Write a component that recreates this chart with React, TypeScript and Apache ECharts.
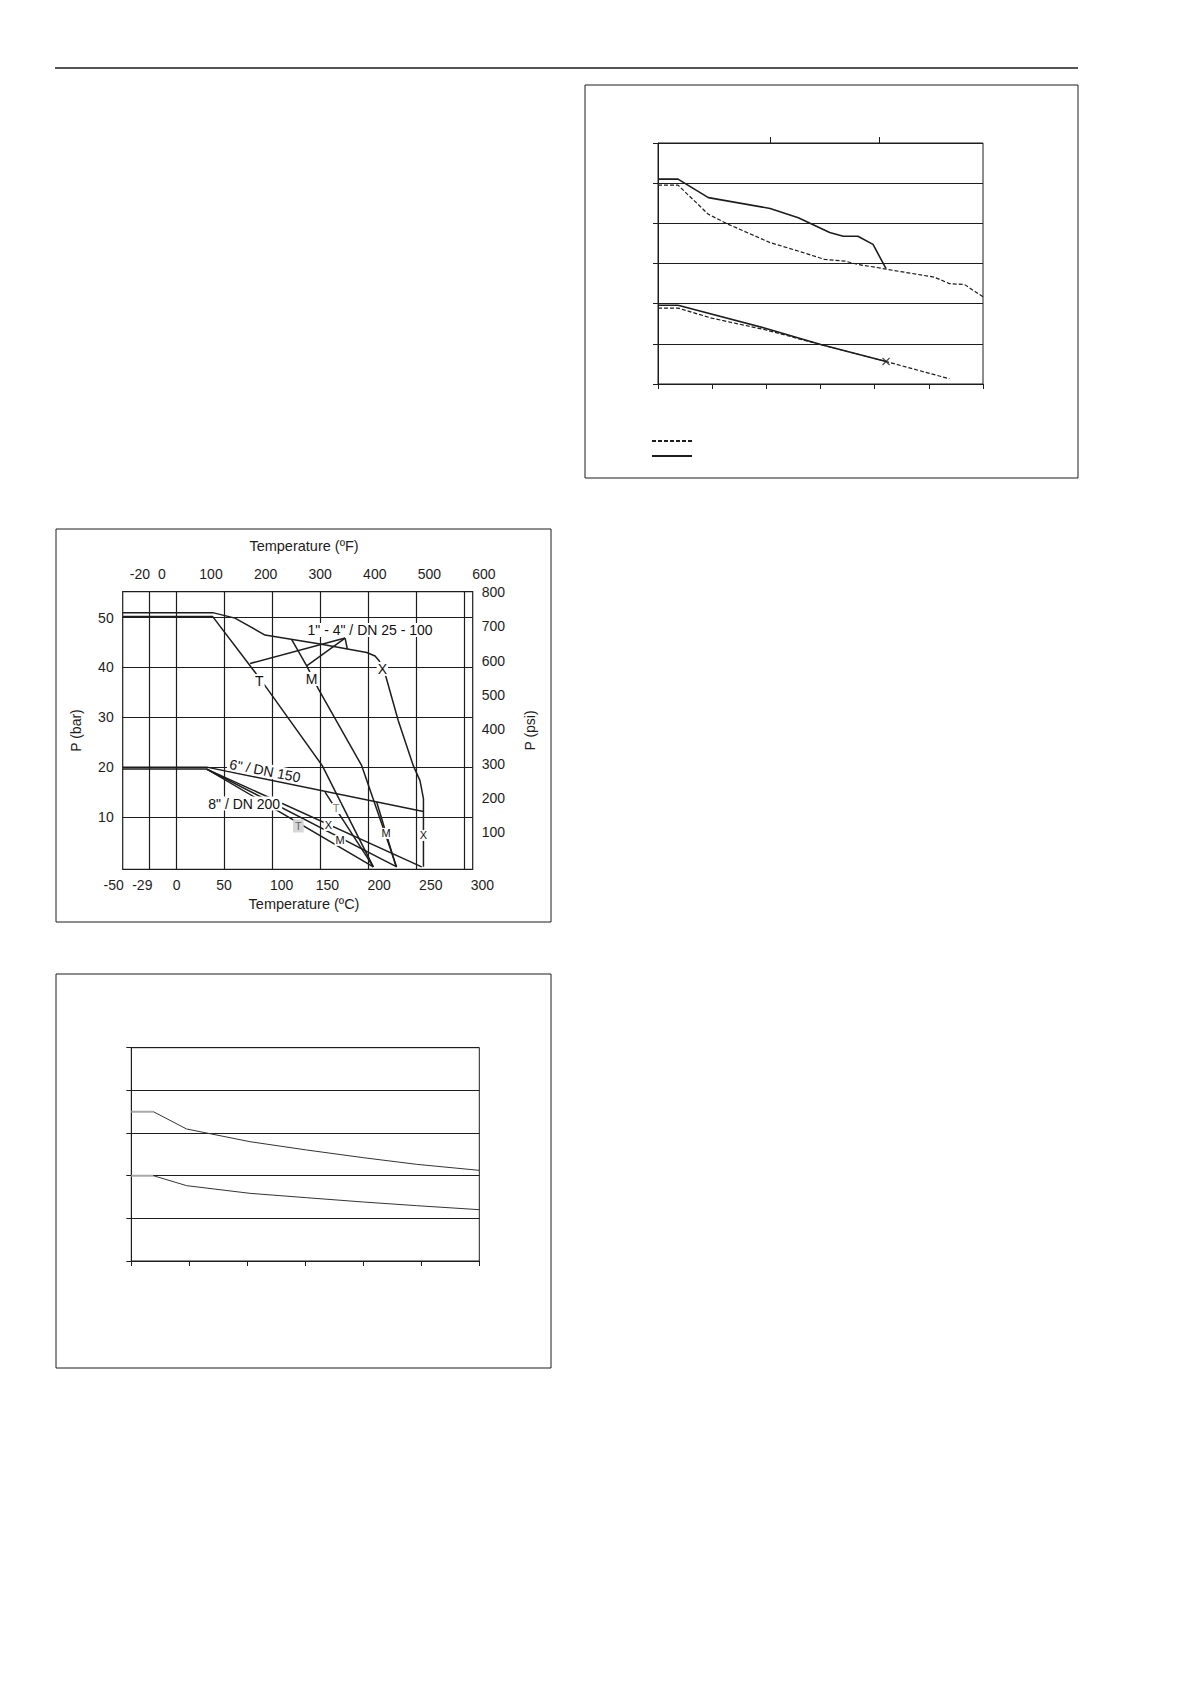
import React, { useEffect, useRef } from 'react';
import * as echarts from 'echarts';

const INK = '#1d1d1d';
const FONT = 'Liberation Sans, Arial, Helvetica, sans-serif';

// ---------- top-right chart (no printed values, units = grid steps) ----------
const TR_UPPER_SOLID = [[0, 5.1], [0.37, 5.1], [0.93, 4.64], [2.07, 4.37], [2.59, 4.14], [3.17, 3.77], [3.42, 3.68], [3.69, 3.68], [3.97, 3.475], [4.21, 2.87]];
const TR_UPPER_DASH = [[0, 4.95], [0.37, 4.95], [0.93, 4.225], [1.3, 3.975], [2.07, 3.52], [2.59, 3.31], [3.08, 3.1], [3.45, 3.06], [3.69, 2.975], [4.0, 2.91], [4.25, 2.85], [5.1, 2.66], [5.38, 2.5], [5.66, 2.475], [6.0, 2.17]];
const TR_LOWER_SOLID = [[0, 1.96], [0.37, 1.96], [1.98, 1.39], [3.02, 0.975], [4.21, 0.56]];
const TR_LOWER_DASH = [[0, 1.89], [0.37, 1.89], [0.99, 1.64], [1.98, 1.35], [3.02, 0.975], [4.21, 0.56], [5.38, 0.13]];
const TR_CROSS = [[4.21, 0.56]];
const TR_TOP_TICKS = [2.07, 4.08];

// ---------- middle chart: temperature (°C) vs pressure (bar) ----------
const C_GRID = [-29, 0, 50, 100, 150, 200, 250, 300];
const BAR_GRID = [10, 20, 30, 40, 50];
const BAR_LABELS = [10, 20, 30, 40, 50];
const PSI_LABELS = [100, 200, 300, 400, 500, 600, 700, 800];
const C_LABELS = [-50, -29, 0, 50, 100, 150, 200, 250, 300];
const F_LABELS = [-20, 0, 100, 200, 300, 400, 500, 600];

// 1" - 4" / DN 25 - 100
const DN25_X = [[-56, 51], [37.5, 51], [60.7, 49.9], [92, 46.5], [149.3, 44.7], [197.9, 43], [206.6, 42.3], [211, 41.3], [218, 38.1], [230.8, 29.3], [246.4, 20.3], [253.4, 17.3], [257, 13.7], [257, 0]];
const DN25_T = [[-56, 50.2], [37.5, 50.2], [79.8, 39.5], [94.4, 35.7], [151.6, 20.3], [204.8, 0]];
const DN25_M = [[119.8, 45.6], [135.4, 40.3], [147.5, 35.7], [192.7, 20.3], [229, 0]];
const DN25_LEAD_T = [[76.4, 40.8], [175.4, 45.9]];
const DN25_LEAD_M = [[135.4, 40.3], [175.4, 45.9]];
const DN25_LEAD_X = [[175.4, 45.9], [177.7, 43.7]];

// 6" / DN 150
const DN150_MAIN = [[-56, 20], [31.3, 20], [257, 11.1]];
const DN150_T = [[154.5, 15.0], [204.8, 0]];
const DN150_M = [[208.3, 13.0], [228.5, 0]];

// 8" / DN 200
const DN200_T = [[-56, 19.6], [31.3, 19.6], [204.8, 0]];
const DN200_M = [[31.3, 19.6], [229.2, 0]];
const DN200_X = [[31.3, 19.6], [255.2, 0]];

// curve labels: [text, °C, bar, rotation]
const SIZE_LABELS = [
  ['1" - 4" / DN 25 - 100', 201.4, 47.5, 0],
  ['6" / DN 150', 92, 19.3, -11],
  ['8" / DN 200', 70.3, 12.7, 0],
];
const BIG_MARKS = [['T', 86.1, 37.3], ['M', 140.6, 37.7], ['X', 214.2, 39.7]];
const SMALL_MARKS = [['X', 157.9, 8.3], ['M', 170.2, 5.3], ['M', 218, 6.7], ['X', 256.9, 6.3]];
const GREY_MARKS = [['T', 166, 11.7]];
const BOXED_MARKS = [['T', 126.7, 8.2]];

// ---------- bottom chart (no printed values) ----------
const BL_UPPER_FLAT = [[0, 3.5], [0.38, 3.5]];
const BL_UPPER = [[0.38, 3.5], [0.954, 3.094], [2.046, 2.797], [3.023, 2.602], [4.0, 2.422], [4.92, 2.266], [6.0, 2.125]];
const BL_LOWER_FLAT = [[0, 2.0], [0.38, 2.0]];
const BL_LOWER = [[0.38, 2.0], [0.954, 1.766], [2.046, 1.586], [3.023, 1.484], [4.0, 1.383], [4.92, 1.297], [6.0, 1.203]];

function curve(data: number[][], x: number, y: number, extra: Record<string, unknown> = {}) {
  return {
    type: 'line',
    xAxisIndex: x,
    yAxisIndex: y,
    data,
    symbol: 'none',
    silent: true,
    z: 3,
    itemStyle: { color: INK },
    lineStyle: { color: INK, width: 1.5 },
    ...extra,
  };
}

function marks(rows: (string | number)[][], fontSize: number, labelExtra: Record<string, unknown> = {}) {
  return {
    type: 'scatter',
    xAxisIndex: 2,
    yAxisIndex: 1,
    symbolSize: 1,
    silent: true,
    z: 10,
    itemStyle: { color: 'rgba(255,255,255,0)' },
    label: {
      show: true,
      position: 'inside',
      formatter: '{b}',
      color: '#111',
      opacity: 1,
      textBorderWidth: 0,
      fontSize,
      fontFamily: FONT,
      backgroundColor: '#fff',
      padding: [0, 1],
      ...labelExtra,
    },
    data: rows.map((r) => ({
      name: r[0],
      value: [r[1], r[2]],
      label: r[3] ? { rotate: r[3] } : undefined,
    })),
  };
}

export default function App() {
  const chartRef = useRef<HTMLDivElement>(null);

  useEffect(() => {
    if (!chartRef.current) return;
    const chart = echarts.init(chartRef.current, undefined, { renderer: 'svg' });

    const tickText = { color: INK, fontSize: 14, fontFamily: FONT };
    const hidden = { show: false };

    const option = {
      animation: false,
      textStyle: { fontFamily: FONT, color: INK },
      legend: {
        data: ['Dashed rating', 'Solid rating'],
        orient: 'vertical',
        left: 651,
        top: 436,
        padding: 0,
        itemWidth: 40,
        itemHeight: 10,
        itemGap: 6,
        selectedMode: false,
        itemStyle: { opacity: 0, borderWidth: 0 },
        formatter: () => '',
      },
      grid: [
        { left: 658, top: 143, width: 325, height: 241, show: true, borderColor: INK, borderWidth: 1, outerBoundsMode: 'none' },
        { left: 122.7, top: 591.7, width: 350, height: 277.6, show: true, borderColor: INK, borderWidth: 1.2, outerBoundsMode: 'none' },
        { left: 94, top: 591.7, width: 420, height: 277.6, show: false, outerBoundsMode: 'none' },
        { left: 131.3, top: 1047.7, width: 348, height: 213.3, show: true, borderColor: INK, borderWidth: 1, outerBoundsMode: 'none' },
      ],
      xAxis: [
        {
          gridIndex: 0, type: 'value', min: 0, max: 6, interval: 1,
          axisLine: { lineStyle: { color: INK } },
          axisTick: { length: 5, lineStyle: { color: INK } },
          axisLabel: hidden, splitLine: hidden,
        },
        {
          gridIndex: 0, type: 'value', position: 'top', min: 0, max: 6,
          axisLine: hidden,
          axisTick: { show: true, customValues: TR_TOP_TICKS, length: 6, lineStyle: { color: INK } },
          axisLabel: hidden, splitLine: hidden,
        },
        { gridIndex: 1, type: 'value', min: -56.25, max: 308.3, show: false },
        {
          gridIndex: 2, type: 'value', min: -75.7, max: 330.5,
          axisLine: hidden, axisTick: hidden, splitLine: hidden,
          axisLabel: {
            ...tickText,
            margin: 9,
            customValues: C_LABELS,
            formatter: (v: number) => (v === -50 ? '{l|-50}' : v === 0 ? '{r|0}' : v === 100 ? '{r2|100}' : String(v)),
            rich: {
              l: { ...tickText, padding: [0, 14, 0, 0] },
              r: { ...tickText, padding: [0, 0, 0, 9] },
              r2: { ...tickText, padding: [0, 0, 0, 12] },
            },
          },
          name: 'Temperature (ºC)',
          nameLocation: 'middle',
          nameGap: 27,
          nameTextStyle: { ...tickText, fontSize: 14.5 },
        },
        {
          gridIndex: 2, type: 'value', position: 'top', min: -114.3, max: 655,
          axisLine: hidden, axisTick: hidden, splitLine: hidden,
          axisLabel: {
            ...tickText,
            margin: 11,
            customValues: F_LABELS,
            formatter: (v: number) => (v === -20 ? '{l|-20}' : v === 0 ? '{r|0}' : String(v)),
            rich: {
              l: { ...tickText, padding: [0, 11, 0, 0] },
              r: { ...tickText, padding: [0, 0, 0, 11] },
            },
          },
          name: 'Temperature (ºF)',
          nameLocation: 'middle',
          nameGap: 38,
          nameTextStyle: { ...tickText, fontSize: 14.5 },
        },
        {
          gridIndex: 3, type: 'value', min: 0, max: 6, interval: 1,
          axisLine: { lineStyle: { color: INK } },
          axisTick: { length: 5, lineStyle: { color: INK } },
          axisLabel: hidden, splitLine: hidden,
        },
      ],
      yAxis: [
        {
          gridIndex: 0, type: 'value', min: 0, max: 6, interval: 1,
          axisLine: { show: true, lineStyle: { color: INK } },
          axisTick: { show: true, length: 5, lineStyle: { color: INK } },
          axisLabel: hidden,
          splitLine: { show: true, lineStyle: { color: INK, width: 1 } },
        },
        {
          gridIndex: 1, type: 'value', min: -0.5, max: 55.2,
          axisLine: hidden, axisTick: hidden, splitLine: hidden,
          axisLabel: { ...tickText, margin: 9, customValues: BAR_LABELS },
          name: 'P (bar)',
          nameLocation: 'middle',
          nameRotate: 90,
          nameGap: 40,
          nameTextStyle: tickText,
        },
        {
          gridIndex: 1, type: 'value', position: 'right', min: -7.25, max: 800.4,
          axisLine: hidden, axisTick: hidden, splitLine: hidden,
          axisLabel: { ...tickText, margin: 9, customValues: PSI_LABELS },
          name: 'P (psi)',
          nameLocation: 'middle',
          nameRotate: 90,
          nameGap: 50,
          nameTextStyle: tickText,
        },
        { gridIndex: 2, type: 'value', min: 0, max: 1, show: false },
        {
          gridIndex: 3, type: 'value', min: 0, max: 5, interval: 1,
          axisLine: { show: true, lineStyle: { color: INK } },
          axisTick: { show: true, length: 5, lineStyle: { color: INK } },
          axisLabel: hidden,
          splitLine: { show: true, lineStyle: { color: INK, width: 1 } },
        },
      ],
      series: [
        // top-right
        curve(TR_UPPER_DASH, 0, 0, { name: 'Dashed rating', lineStyle: { color: INK, width: 1.2, type: [4, 2] } }),
        curve(TR_LOWER_DASH, 0, 0, { name: 'Dashed rating', lineStyle: { color: INK, width: 1.2, type: [4, 2] } }),
        curve(TR_UPPER_SOLID, 0, 0, { name: 'Solid rating', lineStyle: { color: INK, width: 1.6 } }),
        curve(TR_LOWER_SOLID, 0, 0, { name: 'Solid rating', lineStyle: { color: INK, width: 1.6 } }),
        {
          type: 'scatter', xAxisIndex: 0, yAxisIndex: 0, data: TR_CROSS, silent: true, z: 5,
          symbol: 'path://M0,0L8,8M8,0L0,8', symbolSize: 7,
          itemStyle: { color: INK, borderColor: INK, borderWidth: 1.2 },
        },

        // middle: grid lines drawn at the printed temperatures / pressures
        curve(DN200_M, 2, 1, {
          markLine: {
            silent: true,
            symbol: ['none', 'none'],
            label: { show: false },
            lineStyle: { color: INK, width: 1.2, type: 'solid' },
            data: [...C_GRID.map((v) => ({ xAxis: v })), ...BAR_GRID.map((v) => ({ yAxis: v }))],
          },
        }),
        curve(DN200_T, 2, 1),
        curve(DN200_X, 2, 1),
        curve(DN150_MAIN, 2, 1),
        curve(DN150_T, 2, 1),
        curve(DN150_M, 2, 1),
        curve(DN25_X, 2, 1),
        curve(DN25_T, 2, 1),
        curve(DN25_M, 2, 1),
        curve(DN25_LEAD_T, 2, 1),
        curve(DN25_LEAD_M, 2, 1),
        curve(DN25_LEAD_X, 2, 1),
        marks(SIZE_LABELS, 14, { padding: [0, 2] }),
        marks(BIG_MARKS, 14),
        marks(SMALL_MARKS, 11),
        marks(GREY_MARKS, 11, { color: '#777' }),
        marks(BOXED_MARKS, 11, { color: '#666', backgroundColor: '#d6d6d6', padding: [1, 2] }),

        // bottom
        curve(BL_UPPER_FLAT, 5, 4, { lineStyle: { color: '#a8a8a8', width: 2 } }),
        curve(BL_UPPER, 5, 4, { lineStyle: { color: '#333', width: 1 } }),
        curve(BL_LOWER_FLAT, 5, 4, { lineStyle: { color: '#a8a8a8', width: 2 } }),
        curve(BL_LOWER, 5, 4, { lineStyle: { color: '#333', width: 1 } }),
      ],
      graphic: [
        { type: 'line', silent: true, shape: { x1: 55, y1: 68, x2: 1078, y2: 68 }, style: { stroke: INK, lineWidth: 1.5 } },
        { type: 'rect', silent: true, shape: { x: 585, y: 85, width: 493, height: 393 }, style: { fill: 'none', stroke: INK, lineWidth: 1 } },
        { type: 'rect', silent: true, shape: { x: 56, y: 529, width: 495, height: 393 }, style: { fill: 'none', stroke: INK, lineWidth: 1 } },
        { type: 'rect', silent: true, shape: { x: 56, y: 974, width: 495, height: 394 }, style: { fill: 'none', stroke: INK, lineWidth: 1 } },
      ],
    };

    chart.setOption(option as echarts.EChartsOption);

    return () => {
      chart.dispose();
    };
  }, []);

  return (
    <div
      ref={chartRef}
      style={{ position: 'absolute', left: 0, top: 0, width: 1190, height: 1684, background: '#fff' }}
    />
  );
}
